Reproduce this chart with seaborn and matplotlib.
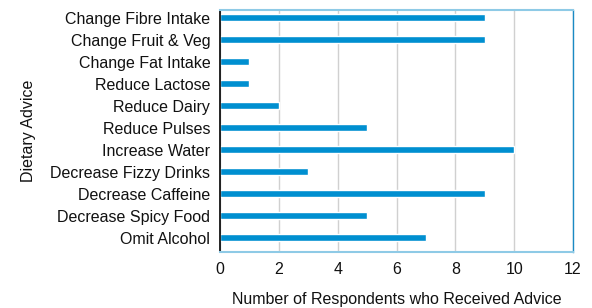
import matplotlib
matplotlib.use("Agg")
import matplotlib.pyplot as plt
import seaborn as sns
import pandas as pd

categories = ["Change Fibre Intake", "Change Fruit & Veg", "Change Fat Intake", "Reduce Lactose",
              "Reduce Dairy", "Reduce Pulses", "Increase Water", "Decrease Fizzy Drinks",
              "Decrease Caffeine", "Decrease Spicy Food", "Omit Alcohol"]
values = [9, 9, 1, 1, 2, 5, 10, 3, 9, 5, 7]
xticks = [0, 2, 4, 6, 8, 10, 12]

sns.set_theme(style="white")
plt.rcParams['font.family'] = ['Liberation Sans', 'DejaVu Sans']

df = pd.DataFrame({"Advice": categories, "Count": values})
fig = plt.figure(figsize=(5.92, 3.08), dpi=100)
ax = fig.add_axes([220/592, 1-252/308, (573-220)/592, (252-10)/308])
sns.barplot(data=df, y="Advice", x="Count", orient="h", color="#008fd0", saturation=1,
            width=0.32, ax=ax, order=categories)
ax.set_xlim(0, 12)
ax.set_xticks(xticks)
ax.set_xticklabels([str(t) for t in xticks])
ax.grid(axis="x", color="#d0d0d0", linewidth=1)
ax.set_axisbelow(True)
ax.tick_params(axis="y", labelsize=11.5, length=0, pad=7, colors="#111111")
ax.tick_params(axis="x", labelsize=11.5, length=0, pad=7, colors="#111111")
ax.set_xlabel("Number of Respondents who Received Advice", fontsize=11.5, labelpad=11, color="#111111")
ax.set_ylabel("Dietary Advice", fontsize=11.5, labelpad=10, color="#111111")
for s in ["top", "bottom"]:
    ax.spines[s].set_color("#8ecae6")
    ax.spines[s].set_linewidth(1.5)
ax.spines["right"].set_color("#1a8ac4")
ax.spines["right"].set_linewidth(1)
ax.spines["left"].set_color("black")
ax.spines["left"].set_linewidth(1.2)
ax.set_ylim(10.64, -0.36)
fig.savefig("out.png", dpi=100)
